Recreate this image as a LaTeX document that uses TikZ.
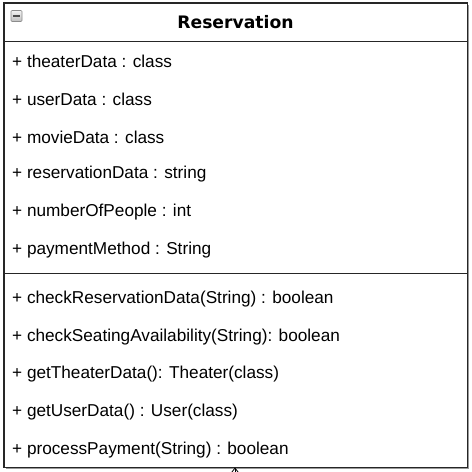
\documentclass[tikz,border=0pt]{standalone}
\usepackage{fontspec}
\setmainfont{Liberation Sans}
\newfontfamily\titlefont{DejaVu Sans}
\usetikzlibrary{arrows.meta}
\begin{document}
\begin{tikzpicture}[x=1pt,y=-1pt,
  row/.style={anchor=west,inner sep=0pt,font=\fontsize{17.2}{20}\selectfont},
  frame/.style={draw=black!85,line width=1.1pt},
  sep/.style={draw=black!85,line width=1pt}]
\useasboundingbox[fill=white] (0,0) rectangle (472,472);
% class box
\node[draw=none,minimum width=463pt,minimum height=464pt,inner sep=0pt,anchor=north west] (res) at (4,3) {};
\draw[black!40,line width=1pt] (468.5,5) -- (468.5,468.5) -- (6,468.5);
\draw[frame] (res.north west) rectangle (res.south east);
\node[font=\titlefont\bfseries\fontsize{17.2}{20}\selectfont,inner sep=0pt] (title) at (235.5,22.5) {Reservation};
\draw[sep] (4,41.5) -- (467,41.5);
\draw[sep] (4,273.5) -- (467,273.5);
% collapse icon
\node[draw=black!45,top color=black!5,bottom color=black!25,rounded corners=1pt,minimum size=11pt,inner sep=0pt,line width=0.7pt] (icon) at (16.5,16) {};
\draw[black!70,line width=1.6pt] (12.8,16) -- (20.2,16);
% attributes
\node[row] (a1) at (12,61) {+ theaterData : class};
\node[row] (a2) at (12,99) {+ userData : class};
\node[row] (a3) at (12,137) {+ movieData : class};
\node[row] (a4) at (12,174.5) {+ reservationData : string};
\node[row] (a5) at (12,212.5) {+ numberOfPeople : int};
\node[row] (a6) at (12,250) {+ paymentMethod : String};
% methods
\node[row] (m1) at (12,299) {+ checkReservationData(String) : boolean};
\node[row] (m2) at (12,337) {+ checkSeatingAvailability(String): boolean};
\node[row] (m3) at (12,374.5) {+ getTheaterData(): Theater(class)};
\node[row] (m4) at (12,412) {+ getUserData() : User(class)};
\node[row] (m5) at (12,450) {+ processPayment(String) : boolean};
% incoming connector
\coordinate (below) at (235,490);
\coordinate (tip) at (235,467.5);
\draw[black,line width=0.8pt,-{Straight Barb[length=5pt,width=8pt]}] (below) -- (tip);
\end{tikzpicture}
\end{document}
